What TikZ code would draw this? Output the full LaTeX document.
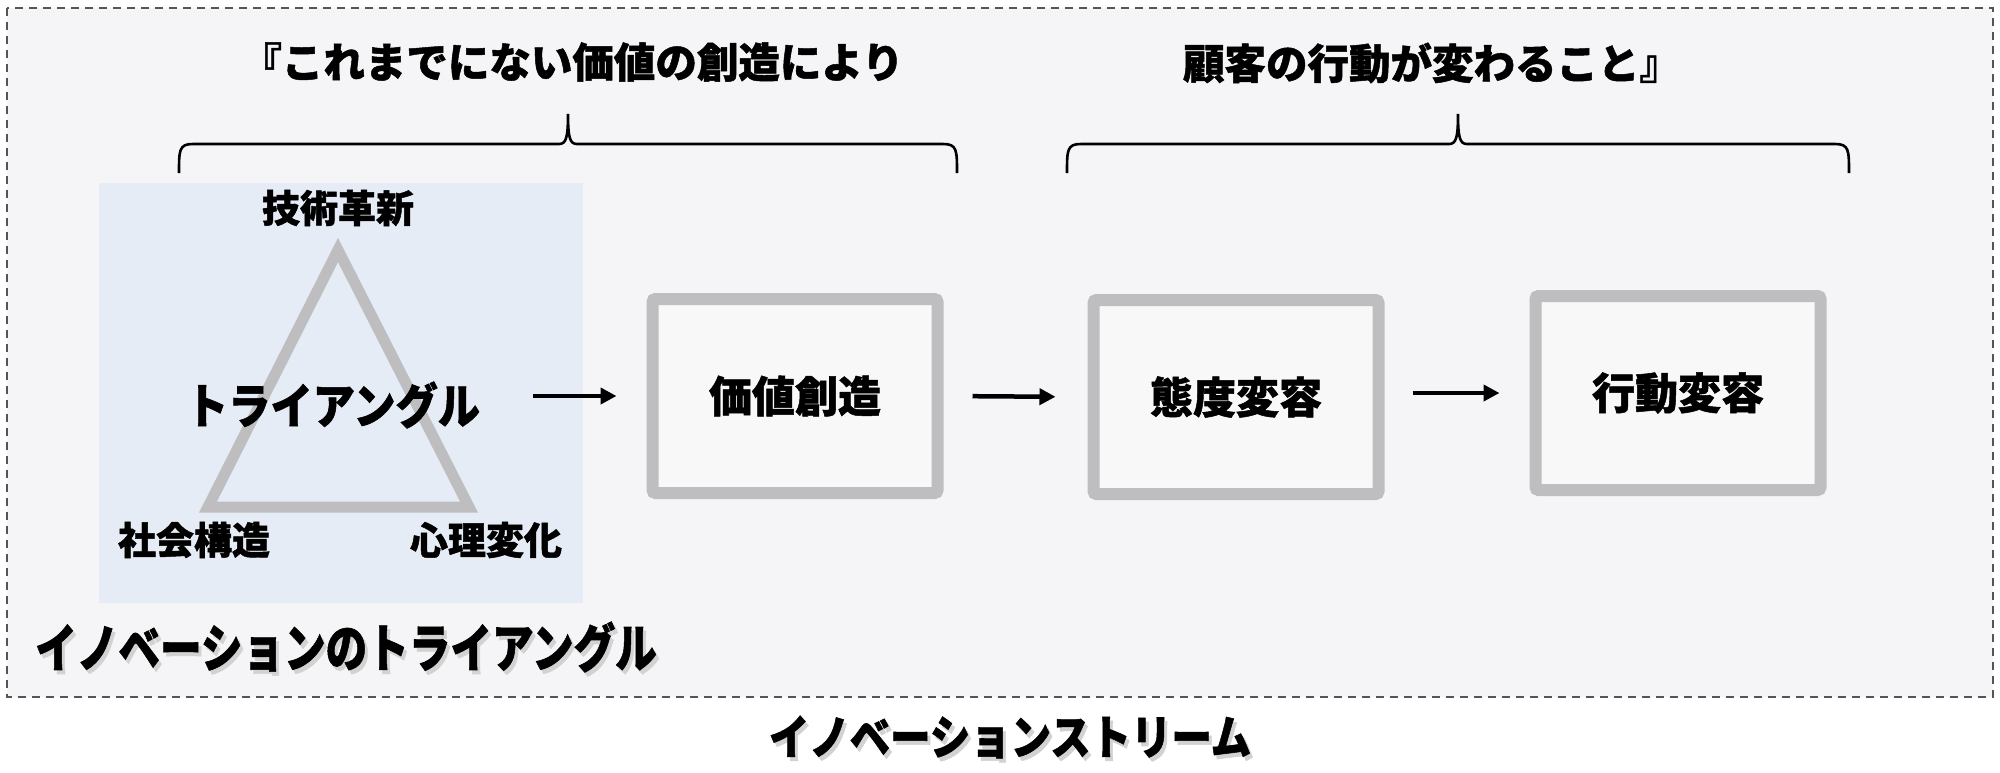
\documentclass[tikz,border=0pt]{standalone}
\usepackage{fontspec}
\setmainfont{Noto Sans CJK JP}[BoldFeatures={FakeBold=1.2}]
\usetikzlibrary{arrows.meta}

\definecolor{panel}{HTML}{F5F5F7}
\definecolor{triblue}{HTML}{E6ECF5}
\definecolor{frame}{HTML}{BEBEC0}
\definecolor{boxfill}{HTML}{F8F8F9}
\definecolor{dashline}{HTML}{555555}

\tikzset{
  txt/.style={font=\bfseries\fontsize{#1}{#1}\selectfont, inner sep=0pt},
  narrow/.style={xscale=#1, transform shape},
  stagebox/.style={draw=frame, line width=12pt, fill=boxfill, rounded corners=3pt,
    minimum width=285pt, minimum height=194pt, inner sep=0pt, txt=43},
  flow/.style={line width=4.5pt, -{Triangle[length=16pt,width=16pt]}},
  glow/.style={text=gray!35}
}

\newcommand\bracepath[3]{%
  \pgfpathmoveto{\pgfpointxy{#1}{173}}
  \pgfpathcurveto{\pgfpointxy{#1}{150}}{\pgfpointxy{#1}{144}}{\pgfpointxy{#1+14}{144}}
  \pgfpathlineto{\pgfpointxy{#2-9}{144}}
  \pgfpathcurveto{\pgfpointxy{#2-2}{144}}{\pgfpointxy{#2}{138}}{\pgfpointxy{#2}{114}}
  \pgfpathcurveto{\pgfpointxy{#2}{138}}{\pgfpointxy{#2+2}{144}}{\pgfpointxy{#2+9}{144}}
  \pgfpathlineto{\pgfpointxy{#3-14}{144}}
  \pgfpathcurveto{\pgfpointxy{#3}{144}}{\pgfpointxy{#3}{150}}{\pgfpointxy{#3}{173}}
  \pgfusepath{stroke}
}

\begin{document}
\begin{tikzpicture}[x=1pt,y=-1pt]
  \fill[white] (0,0) rectangle (2000,772);
  \useasboundingbox (0,0) rectangle (2000,772);

  \draw[dashline, fill=panel, line width=1.5pt, dash pattern=on 8pt off 6pt] (7,8) rectangle (1993,697);
  \fill[triblue] (99,183) rectangle (583,603);

  \node[txt=41.5] (claimL) at (572,62) {『これまでにない価値の創造により};
  \node[txt=41.5] (claimR) at (1432,63) {顧客の行動が変わること』};

  \pgfsetlinewidth{2.6pt}
  \bracepath{179}{568}{957}
  \bracepath{1067}{1458}{1849}

  \coordinate (apex) at (338,250);
  \coordinate (left) at (208,507);
  \coordinate (right) at (469,507);
  \draw[frame, line width=11pt] (apex) -- (left) -- (right) -- cycle;

  \node[txt=38] (tech) at (338,208) {技術革新};
  \node[txt=38] (society) at (194,540) {社会構造};
  \node[txt=38] (mind) at (486,540) {心理変化};
  \node[txt=48, narrow=.88] (trilbl) at (333,405) {トライアングル};

  \node[txt=52, narrow=.8, glow] (triname shadow) at (349,651) {イノベーションのトライアングル};
  \node[txt=52, narrow=.8] (triname) at (346,647) {イノベーションのトライアングル};
  \node[txt=47, narrow=.86, glow] (stream shadow) at (1013,741) {イノベーションストリーム};
  \node[txt=47, narrow=.86] (stream) at (1010,737) {イノベーションストリーム};

  \node[stagebox] (value) at (795,396) {価値創造};
  \node[stagebox] (attitude) at (1236,397) {態度変容};
  \node[stagebox] (behavior) at (1678,393) {行動変容};

  \draw[flow, shorten <=52pt, shorten >=30pt] (value.west -| trilbl.east) -- (value.west);
  \draw[flow, shorten <=29pt, shorten >=32pt] (value.east) -- (attitude.west);
  \draw[flow, shorten <=28pt, shorten >=30pt] (attitude.east |- behavior.west) -- (behavior.west);
\end{tikzpicture}
\end{document}
